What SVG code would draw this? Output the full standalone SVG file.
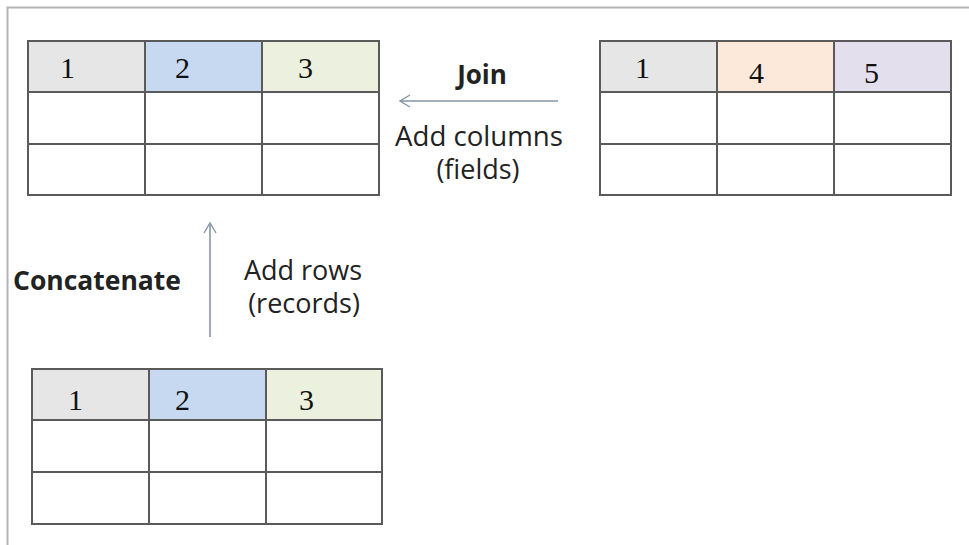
<svg xmlns="http://www.w3.org/2000/svg" width="969" height="545" viewBox="0 0 969 545">
  <defs>
    <style>
      .grid { fill: none; stroke: #5a5a5a; stroke-width: 2; }
      .num { font-family: "Liberation Serif", "Times New Roman", serif; font-size: 30px; fill: #111; }
      .lbl { font-family: "Open Sans", "Noto Sans", sans-serif; font-size: 27px; fill: #222; }
      .bold { font-weight: bold; font-size: 26px; }
      .conn { stroke: #8496a6; stroke-width: 1.6; fill: none; }
      .c-gray { fill: #e6e6e6; }
      .c-blue { fill: #c6d9f1; }
      .c-green { fill: #ebf1de; }
      .c-orange { fill: #fde9d9; }
      .c-purple { fill: #e4dfec; }
    </style>
    <!-- open chevron head pointing along the line direction -->
    <marker id="arrow" viewBox="0 0 12 14" refX="11" refY="7" markerWidth="12" markerHeight="14" markerUnits="userSpaceOnUse" orient="auto">
      <path d="M1 1 L11 7 L1 13" fill="none" stroke="#8496a6" stroke-width="1.4"/>
    </marker>
  </defs>

  <rect width="969" height="545" fill="#ffffff"/>

  <!-- outer frame: top and left edges -->
  <path d="M7.5 545 V7.5 H969" fill="none" stroke="#b4b4b4" stroke-width="2"/>

  <!-- result table -->
  <g id="table-result">
    <rect class="c-gray" x="28" y="41" width="117" height="51"/>
    <rect class="c-blue" x="145" y="41" width="117" height="51"/>
    <rect class="c-green" x="262" y="41" width="117" height="51"/>
    <rect class="grid" x="28" y="41" width="351" height="154"/>
    <path class="grid" d="M145 41 V195 M262 41 V195 M28 92 H379 M28 144 H379"/>
    <text class="num" x="60" y="78">1</text>
    <text class="num" x="175" y="78">2</text>
    <text class="num" x="298" y="78">3</text>
  </g>

  <!-- joined table -->
  <g id="table-join">
    <rect class="c-gray" x="600" y="41" width="117" height="51"/>
    <rect class="c-orange" x="717" y="41" width="117" height="51"/>
    <rect class="c-purple" x="834" y="41" width="117" height="51"/>
    <rect class="grid" x="600" y="41" width="351" height="154"/>
    <path class="grid" d="M717 41 V195 M834 41 V195 M600 92 H951 M600 144 H951"/>
    <text class="num" x="635" y="78">1</text>
    <text class="num" x="749" y="83">4</text>
    <text class="num" x="864" y="83">5</text>
  </g>

  <!-- concatenated table -->
  <g id="table-concat">
    <rect class="c-gray" x="32" y="369" width="117" height="51"/>
    <rect class="c-blue" x="149" y="369" width="117" height="51"/>
    <rect class="c-green" x="266" y="369" width="116" height="51"/>
    <rect class="grid" x="32" y="369" width="350" height="155"/>
    <path class="grid" d="M149 369 V524 M266 369 V524 M32 420 H382 M32 472 H382"/>
    <text class="num" x="68" y="410">1</text>
    <text class="num" x="175" y="410">2</text>
    <text class="num" x="299" y="410">3</text>
  </g>

  <!-- connectors -->
  <g id="connectors">
    <line class="conn" x1="558" y1="101" x2="400" y2="101" marker-end="url(#arrow)"/>
    <line class="conn" x1="210" y1="337" x2="210" y2="223" marker-end="url(#arrow)"/>
  </g>

  <!-- labels -->
  <g id="label-join">
    <text class="lbl bold" x="482" y="84" text-anchor="middle">Join</text>
    <text class="lbl" x="479" y="146" text-anchor="middle" textLength="168" lengthAdjust="spacingAndGlyphs">Add columns</text>
    <text class="lbl" x="478" y="179" text-anchor="middle">(fields)</text>
  </g>
  <g id="label-concat">
    <text class="lbl bold" x="13" y="290" textLength="168" lengthAdjust="spacingAndGlyphs">Concatenate</text>
    <text class="lbl" x="303" y="280" text-anchor="middle">Add rows</text>
    <text class="lbl" x="304" y="313" text-anchor="middle">(records)</text>
  </g>
</svg>
